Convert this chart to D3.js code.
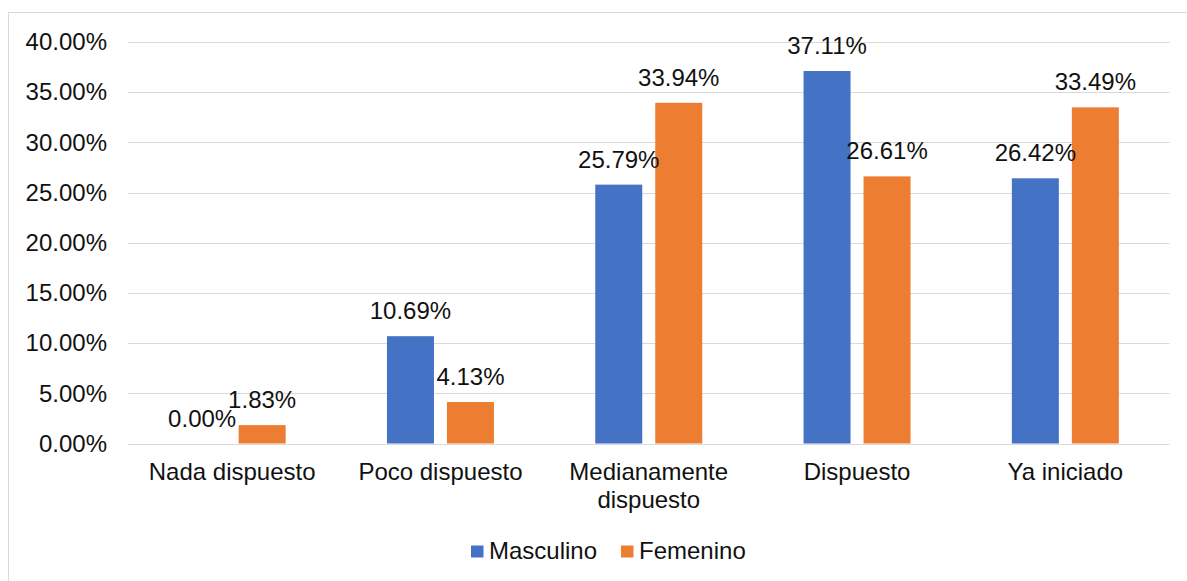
<!DOCTYPE html>
<html><head><meta charset="utf-8">
<script src="https://cdn.jsdelivr.net/npm/d3@7"></script>
<style>
html,body{margin:0;padding:0;background:#fff;}
text{font-family:"Liberation Sans", Arial, sans-serif;fill:#111;}
</style></head>
<body>
<svg id="chart" width="1187" height="581"></svg>
<script>
const categories = ["Nada dispuesto", "Poco dispuesto", "Medianamente dispuesto", "Dispuesto", "Ya iniciado"];
const seriesNames = ["Masculino", "Femenino"];
const masculino = [0.00, 10.69, 25.79, 37.11, 26.42];
const femenino = [1.83, 4.13, 33.94, 26.61, 33.49];
const yTicks = [0, 5, 10, 15, 20, 25, 30, 35, 40];
const colors = ["#4472C4", "#ED7D31"];

(function () {
const svg = d3.select("#chart");
const W = 1187, H = 581;
const pLeft = 128, pRight = 1169.5, pTop = 42, pBottom = 443.5;

// outer border
svg.append("rect").attr("x", 8.5).attr("y", 12.5).attr("width", W + 20).attr("height", H + 20)
  .attr("fill", "none").attr("stroke", "#d9d9d9").attr("stroke-width", 1);

const y = d3.scaleLinear().domain([0, 40]).range([pBottom, pTop]);
const x0 = d3.scaleBand().domain(categories).range([pLeft, pRight]).padding(0);
const x1 = d3.scaleBand().domain(seriesNames).range([0, 107]).paddingInner(0.2167).paddingOuter(0);

// gridlines
svg.append("g").selectAll("line").data(yTicks).join("line")
  .attr("x1", pLeft).attr("x2", pRight)
  .attr("y1", d => Math.round(y(d)) + 0.5).attr("y2", d => Math.round(y(d)) + 0.5)
  .attr("stroke", "#d9d9d9").attr("stroke-width", 1.2);

// y axis labels
const yAxis = d3.axisLeft(y).tickValues(yTicks).tickSize(0).tickPadding(21)
  .tickFormat(d => d.toFixed(2) + "%");
const gy = svg.append("g").attr("transform", `translate(${pLeft},0)`).call(yAxis);
gy.select(".domain").remove();
gy.selectAll("text").attr("font-size", 24).attr("fill", "#111")
  .style("font-family", '"Liberation Sans", Arial, sans-serif');

// bars
const data = categories.map((c, i) => ({cat: c, vals: [masculino[i], femenino[i]]}));
const groups = svg.append("g").selectAll("g").data(data).join("g")
  .attr("transform", d => `translate(${x0(d.cat) + (x0.bandwidth() - 107) / 2},0)`);

groups.selectAll("rect").data(d => d.vals.map((v, j) => ({v, s: seriesNames[j], j})))
  .join("rect")
  .attr("x", d => x1(d.s)).attr("width", x1.bandwidth())
  .attr("y", d => y(d.v)).attr("height", d => pBottom - y(d.v))
  .attr("fill", d => colors[d.j]);

groups.selectAll("text.lbl").data(d => d.vals.map((v, j) => ({v, s: seriesNames[j], j})))
  .join("text").attr("class", "lbl")
  .attr("x", d => x1(d.s) + x1.bandwidth() / 2)
  .attr("y", d => y(d.v) - 17)
  .attr("text-anchor", "middle").attr("font-size", 24)
  .text(d => d.v.toFixed(2) + "%");

// category labels
const catG = svg.append("g");
categories.forEach(c => {
  const cx = x0(c) + x0.bandwidth() / 2;
  const lines = c === "Medianamente dispuesto" ? ["Medianamente", "dispuesto"] : [c];
  const t = catG.append("text").attr("text-anchor", "middle").attr("font-size", 24)
    .attr("x", cx).attr("y", 479.5);
  lines.forEach((l, i) => {
    t.append("tspan").attr("x", cx).attr("dy", i === 0 ? 0 : 28).text(l);
  });
});

// legend
const legendItems = [{n: seriesNames[0], c: colors[0], x: 471}, {n: seriesNames[1], c: colors[1], x: 621}];
const lg = svg.append("g");
legendItems.forEach(it => {
  lg.append("rect").attr("x", it.x).attr("y", 545.5).attr("width", 12.5).attr("height", 12).attr("fill", it.c);
  lg.append("text").attr("x", it.x + 18).attr("y", 558.5).attr("font-size", 24).text(it.n);
});
})();
</script>
</body></html>
